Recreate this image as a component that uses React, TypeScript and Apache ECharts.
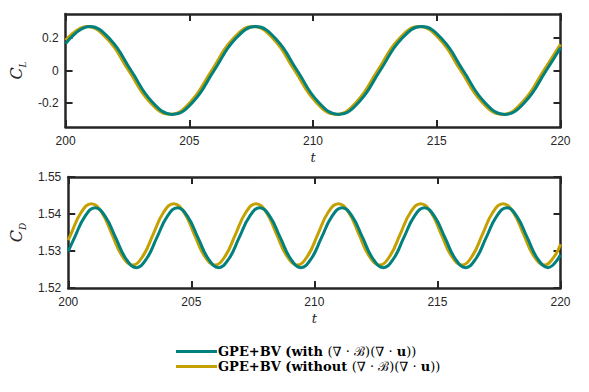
import React, { useEffect, useRef } from "react";
import * as echarts from "echarts";

// C_L, with (∇·ℬ)(∇·u): sample times and values (peaks, troughs and in-between points)
const clWithT = [
  200, 200.97, 201.809, 202.648, 203.486, 204.325, 205.164, 206.003, 206.841, 207.68,
  208.519, 209.358, 210.196, 211.035, 211.874, 212.713, 213.551, 214.39, 215.229,
  216.068, 216.906, 217.745, 218.584, 219.423, 220,
];
const clWithV = [
  0.167, 0.272, 0.192, 0, -0.192, -0.272, -0.192, 0, 0.192, 0.272,
  0.192, 0, -0.192, -0.272, -0.192, 0, 0.192, 0.272, 0.192,
  0, -0.192, -0.272, -0.192, 0, 0.141,
];
// C_L, without
const clWithoutT = [
  200, 200.87, 201.709, 202.548, 203.386, 204.225, 205.064, 205.903, 206.741, 207.58,
  208.419, 209.258, 210.096, 210.935, 211.774, 212.613, 213.451, 214.29, 215.129,
  215.968, 216.806, 217.645, 218.484, 219.323, 220,
];
const clWithoutV = [
  0.187, 0.272, 0.192, 0, -0.192, -0.272, -0.192, 0, 0.192, 0.272,
  0.192, 0, -0.192, -0.272, -0.192, 0, 0.192, 0.272, 0.192,
  0, -0.192, -0.272, -0.192, 0, 0.162,
];
// C_D, with
const cdWithT = [
  200, 200.254, 200.672, 201.09, 201.508, 201.926, 202.344, 202.763, 203.181, 203.599,
  204.017, 204.435, 204.853, 205.271, 205.689, 206.108, 206.526, 206.944, 207.362,
  207.78, 208.198, 208.616, 209.034, 209.453, 209.871, 210.289, 210.707, 211.125,
  211.543, 211.961, 212.379, 212.798, 213.216, 213.634, 214.052, 214.47, 214.888,
  215.306, 215.724, 216.143, 216.561, 216.979, 217.397, 217.815, 218.233, 218.651,
  219.069, 219.488, 220,
];
const cdWithV = [
  1.5299, 1.5336, 1.5393,
  1.5417, 1.5393, 1.5336, 1.5279, 1.5255, 1.5279, 1.5336, 1.5393,
  1.5417, 1.5393, 1.5336, 1.5279, 1.5255, 1.5279, 1.5336, 1.5393,
  1.5417, 1.5393, 1.5336, 1.5279, 1.5255, 1.5279, 1.5336, 1.5393,
  1.5417, 1.5393, 1.5336, 1.5279, 1.5255, 1.5279, 1.5336, 1.5393,
  1.5417, 1.5393, 1.5336, 1.5279, 1.5255, 1.5279, 1.5336, 1.5393,
  1.5417, 1.5393, 1.5336, 1.5279, 1.5255,
  1.529,
];
// C_D, without
const cdWithoutT = [
  200, 200.104, 200.522, 200.94, 201.358, 201.776, 202.194, 202.613, 203.031, 203.449,
  203.867, 204.285, 204.703, 205.121, 205.539, 205.958, 206.376, 206.794, 207.212,
  207.63, 208.048, 208.466, 208.884, 209.303, 209.721, 210.139, 210.557, 210.975,
  211.393, 211.811, 212.229, 212.648, 213.066, 213.484, 213.902, 214.32, 214.738,
  215.156, 215.574, 215.993, 216.411, 216.829, 217.247, 217.665, 218.083, 218.501,
  218.919, 219.338, 219.756, 220,
];
const cdWithoutV = [
  1.5329, 1.5345, 1.5404,
  1.5428, 1.5404, 1.5345, 1.5286, 1.5262, 1.5286, 1.5345, 1.5404,
  1.5428, 1.5404, 1.5345, 1.5286, 1.5262, 1.5286, 1.5345, 1.5404,
  1.5428, 1.5404, 1.5345, 1.5286, 1.5262, 1.5286, 1.5345, 1.5404,
  1.5428, 1.5404, 1.5345, 1.5286, 1.5262, 1.5286, 1.5345, 1.5404,
  1.5428, 1.5404, 1.5345, 1.5286, 1.5262, 1.5286, 1.5345, 1.5404,
  1.5428, 1.5404, 1.5345, 1.5286, 1.5262, 1.5286,
  1.5318,
];
const clTicks = [-0.2, 0, 0.2];
const cdTicks = [1.52, 1.53, 1.54, 1.55];

const NAME_WITH = "GPE+BV (with (∇·ℬ)(∇·u))";
const NAME_WITHOUT = "GPE+BV (without (∇·ℬ)(∇·u))";

const TEAL = "#00807e";
const GOLD = "#c4a000";
const INK = "#262626";

const pairs = (ts: number[], vs: number[]) => ts.map((t, i) => [t, vs[i]]);

export default function App() {
  const ref = useRef<HTMLDivElement>(null);
  useEffect(() => {
    if (!ref.current) return;
    const chart = echarts.init(ref.current, undefined, { renderer: "svg" });
    const tickFont = () => ({ fontFamily: "Liberation Sans, Arial, sans-serif", fontSize: 12, color: INK });
    const grids = [
      { left: 57.5, right: 28.5, top: 14, height: 113, show: false },
      { left: 57.5, right: 28.5, top: 177, height: 111, show: false },
    ];
    const tick = (cv?: number[]) => {
      const t: any = { show: true, inside: true, length: 7, lineStyle: { color: INK, width: 2 } };
      if (cv) t.customValues = cv;
      return t;
    };
    const axLine = () => ({ show: true, onZero: false, lineStyle: { color: INK, width: 2.5 } });
    const xBottom = (gi: number) => ({
      type: "value", gridIndex: gi, min: 200, max: 220, interval: 5,
      axisLine: axLine(), axisTick: tick(), splitLine: { show: false },
      axisLabel: { ...tickFont(), margin: 8 },
      name: "t", nameLocation: "middle", nameGap: 24,
      nameTextStyle: { fontFamily: "DejaVu Serif, serif", fontStyle: "italic", fontSize: 13, color: INK },
    });
    const xTop = (gi: number) => ({
      type: "value", gridIndex: gi, min: 200, max: 220, interval: 5, position: "top",
      axisLine: axLine(), axisTick: tick(), splitLine: { show: false }, axisLabel: { show: false },
    });
    const nameRich = () => ({
      c: { fontFamily: "DejaVu Serif, serif", fontStyle: "italic", fontSize: 16, color: INK, lineHeight: 22 },
      s: { fontFamily: "DejaVu Serif, serif", fontStyle: "italic", fontSize: 9, color: INK, lineHeight: 10, verticalAlign: "bottom" },
    });
    const yLeft = (gi: number, min: number, max: number, ticks: number[], sub: string, fmt: (v: number) => string) => ({
      type: "value", gridIndex: gi, min, max,
      axisLine: axLine(), splitLine: { show: false },
      axisTick: tick(ticks),
      axisLabel: { ...tickFont(), margin: 7, customValues: ticks, formatter: fmt },
      name: `{c|C}{s|${sub}}`, nameLocation: "middle", nameRotate: 90, nameGap: 36,
      nameTextStyle: { rich: nameRich() },
    });
    const yRight = (gi: number, min: number, max: number, ticks: number[]) => ({
      type: "value", gridIndex: gi, min, max, position: "right",
      axisLine: axLine(), splitLine: { show: false },
      axisTick: tick(ticks),
      axisLabel: { show: false },
    });
    const clFmt = (v: number) => (Math.abs(v) < 1e-9 ? "0" : v.toFixed(1));
    const cdFmt = (v: number) => v.toFixed(2);
    const line = (name: string, color: string, data: number[][], xi: number, yi: number, z: number) => ({
      type: "line", name, data, xAxisIndex: xi, yAxisIndex: yi, smooth: 0.45,
      showSymbol: false, symbol: "none", z,
      lineStyle: { color, width: 3 }, itemStyle: { color },
    });
    const legendRich = {
      b: { fontFamily: "DejaVu Serif, serif", fontWeight: "bold", fontSize: 13, color: "#000", lineHeight: 15 },
      m: { fontFamily: "DejaVu Serif, serif", fontSize: 13, color: "#000", lineHeight: 15 },
    };
    chart.setOption({
      animation: false,
      backgroundColor: "#fff",
      grid: grids,
      xAxis: [xBottom(0), xTop(0), xBottom(1), xTop(1)],
      yAxis: [
        yLeft(0, -0.35, 0.35, clTicks, "L", clFmt),
        yRight(0, -0.35, 0.35, clTicks),
        yLeft(1, 1.52, 1.55, cdTicks, "D", cdFmt),
        yRight(1, 1.52, 1.55, cdTicks),
      ],
      legend: {
        data: [NAME_WITH, NAME_WITHOUT],
        orient: "vertical",
        left: 171,
        top: 340,
        itemWidth: 41,
        itemHeight: 3,
        itemGap: 2,
        icon: "rect",
        textStyle: { rich: legendRich, padding: [0, 0, 0, -4] },
        formatter: (n: string) =>
          n === NAME_WITH
            ? "{b|GPE+BV (with }{m|(∇ · ℬ)(∇ · }{b|u}{m|))}"
            : "{b|GPE+BV (without }{m|(∇ · ℬ)(∇ · }{b|u}{m|))}",
      },
      series: [
        line(NAME_WITHOUT, GOLD, pairs(clWithoutT, clWithoutV), 0, 0, 2),
        line(NAME_WITH, TEAL, pairs(clWithT, clWithV), 0, 0, 3),
        line(NAME_WITHOUT, GOLD, pairs(cdWithoutT, cdWithoutV), 2, 2, 2),
        line(NAME_WITH, TEAL, pairs(cdWithT, cdWithV), 2, 2, 3),
      ],
    });
    return () => chart.dispose();
  }, []);
  return (
    <div
      ref={ref}
      style={{ position: "fixed", left: 0, top: 0, width: 589, height: 392, background: "#fff" }}
    />
  );
}
